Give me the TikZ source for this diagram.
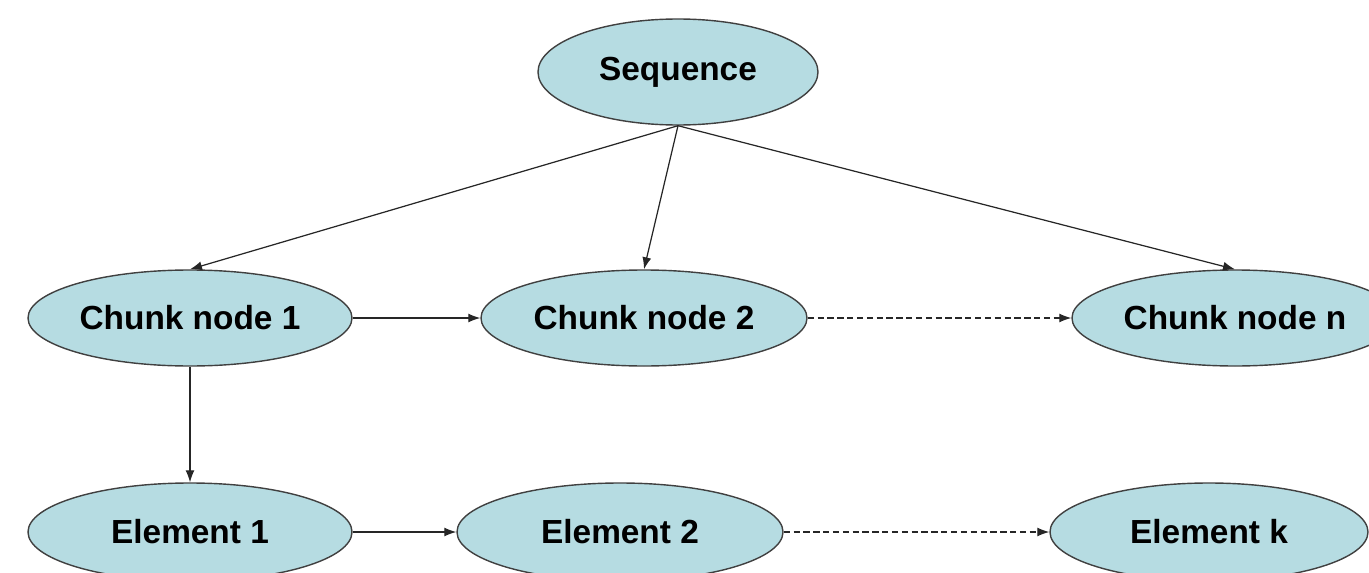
\documentclass[tikz,border=0pt]{standalone}
\usepackage{fontspec}
\setmainfont{Liberation Sans}
\usetikzlibrary{shapes.geometric,arrows.meta}
\definecolor{nodeblue}{RGB}{182,220,226}
\begin{document}
\begin{tikzpicture}[
    blob/.style={ellipse,draw=black!75,fill=nodeblue,line width=0.8pt,inner sep=0pt,
      minimum height=1.92cm,font=\fontsize{19}{23}\selectfont\bfseries},
    link/.style={line width=0.7pt,draw=black!85,-{Latex[length=2.4mm,width=1.8mm]}},
    maybe/.style={link,dash pattern=on 3.6pt off 2pt}]
        \useasboundingbox (0,0) rectangle (27.38,-11.46);
        \node[blob,minimum width=5.6cm,minimum height=2.12cm](seq) at (13.56,-1.44){Sequence};
        \node[blob,minimum width=6.48cm](chunkA) at (3.8,-6.36){Chunk node 1};
        \node[blob,minimum width=6.52cm](chunkB) at (12.88,-6.36){Chunk node 2};
        \node[blob,minimum width=6.52cm](chunkN) at (24.7,-6.36){Chunk node n};
        \node[blob,minimum width=6.48cm,minimum height=1.96cm](elemA) at (3.8,-10.64){Element 1};
        \node[blob,minimum width=6.52cm,minimum height=1.96cm](elemB) at (12.4,-10.64){Element 2};
        \node[blob,minimum width=6.36cm,minimum height=1.96cm](elemK) at (24.18,-10.64){Element k};

        \draw[link](seq.south) -- (chunkA.north);
        \draw[link](seq.south) -- (chunkB.north);
        \draw[link](seq.south) -- (chunkN.north);

        \draw[link](chunkA.east) -- (chunkB.west);
        \draw[maybe](chunkB.east) -- (chunkN.west);
        \draw[link](chunkA.south) -- (elemA.north);

        \draw[link](elemA.east) -- (elemB.west);
        \draw[maybe](elemB.east) -- (elemK.west);
    \end{tikzpicture}
\end{document}
